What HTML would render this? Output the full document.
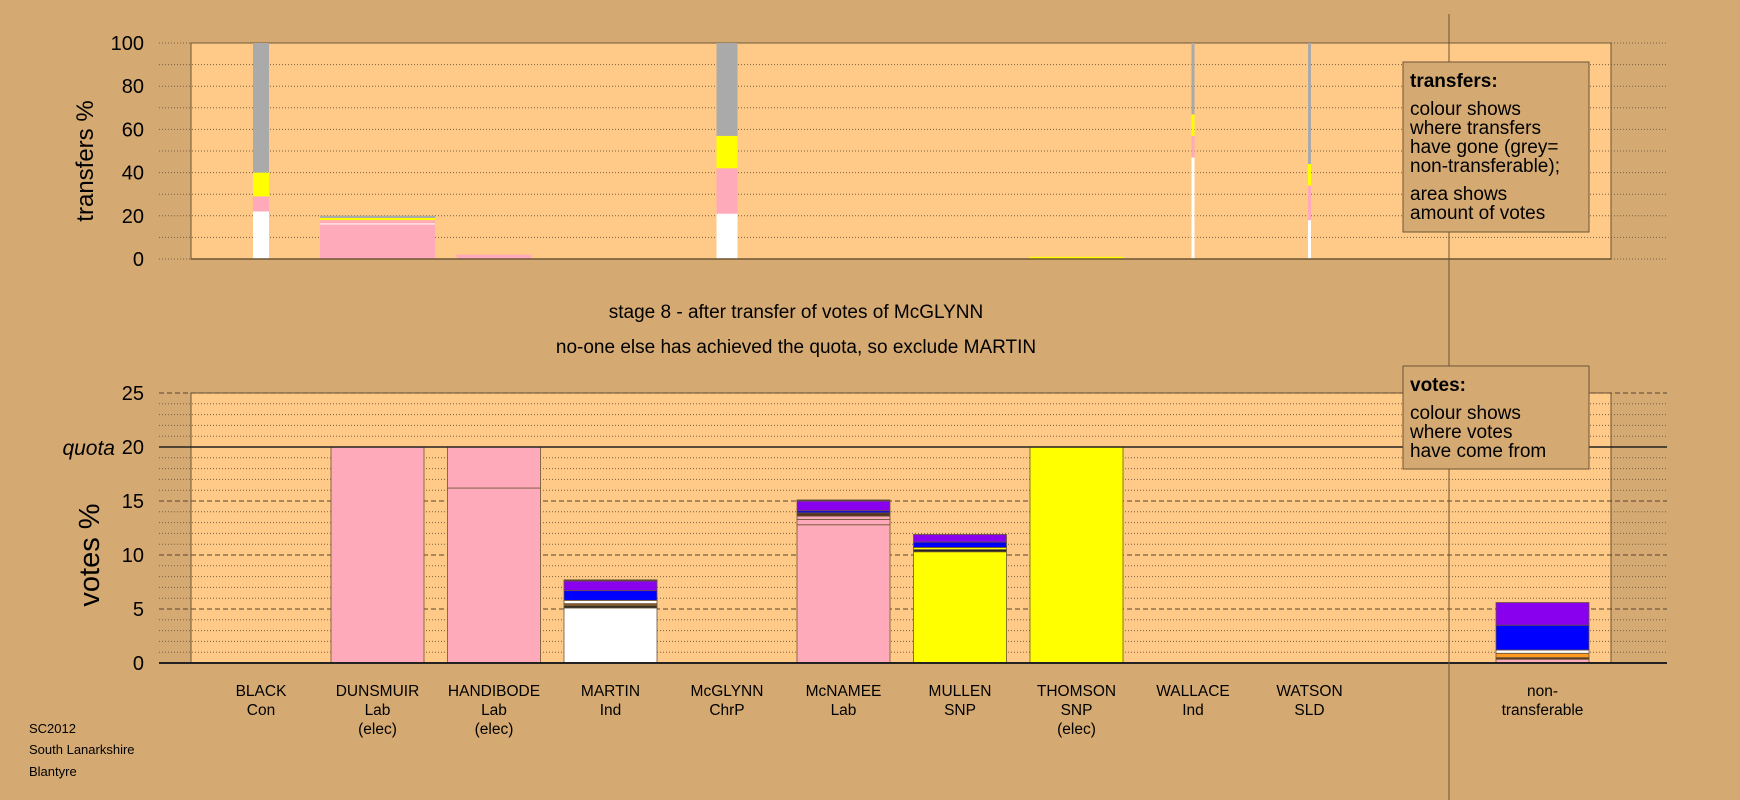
<!DOCTYPE html>
<html><head><meta charset="utf-8"><style>
html,body{margin:0;padding:0;background:#d4a972;}
svg{display:block;font-family:"Liberation Sans",sans-serif;}
</style></head><body>
<svg id="c" width="1740" height="800" viewBox="0 0 1740 800">
<rect x="0" y="0" width="1740" height="800" fill="#d4a972"/>
<rect x="191" y="43" width="1420" height="216" fill="#ffc987" stroke="#6b5535" stroke-width="1"/>
<rect x="191" y="393" width="1420" height="270" fill="#ffc987" stroke="#6b5535" stroke-width="1"/>
<g id="grid"></g>
<g id="bars"></g>
<line x1="1449" y1="14" x2="1449" y2="800" stroke="#6b5535" stroke-width="1"/>
<text x="85" y="161" font-size="24" text-anchor="middle" transform="rotate(-90 85 161)" dy="8">transfers %</text>
<text x="89" y="555" font-size="29" text-anchor="middle" transform="rotate(-90 89 555)" dy="10">votes %</text>
<text x="115" y="455" font-size="21" font-style="italic" text-anchor="end">quota</text>
<text x="796" y="318" font-size="19" text-anchor="middle">stage 8 - after transfer of votes of McGLYNN</text>
<text x="796" y="353" font-size="19" text-anchor="middle">no-one else has achieved the quota, so exclude MARTIN</text>
<g>
<rect x="1403" y="62" width="186" height="170" fill="#d4a972" stroke="#6b5535"/>
<text x="1410" y="87" font-size="19" font-weight="bold">transfers:</text>
<text font-size="19"><tspan x="1410" y="115">colour shows</tspan><tspan x="1410" y="134">where transfers</tspan><tspan x="1410" y="153">have gone (grey=</tspan><tspan x="1410" y="172">non-transferable);</tspan><tspan x="1410" y="200">area shows</tspan><tspan x="1410" y="219">amount of votes</tspan></text>
</g>
<g>
<rect x="1403" y="366" width="186" height="103" fill="#d4a972" stroke="#6b5535"/>
<text x="1410" y="391" font-size="19" font-weight="bold">votes:</text>
<text font-size="19"><tspan x="1410" y="419">colour shows</tspan><tspan x="1410" y="438">where votes</tspan><tspan x="1410" y="457">have come from</tspan></text>
</g>
<text font-size="13"><tspan x="29" y="733">SC2012</tspan><tspan x="29" y="754">South Lanarkshire</tspan><tspan x="29" y="776">Blantyre</tspan></text>
</svg>
<script>
const candidates=["BLACK|Con","DUNSMUIR|Lab|(elec)","HANDIBODE|Lab|(elec)","MARTIN|Ind","McGLYNN|ChrP","McNAMEE|Lab","MULLEN|SNP","THOMSON|SNP|(elec)","WALLACE|Ind","WATSON|SLD","non-|transferable"];
const tTicks=[0,20,40,60,80,100];
const vTicks=[0,5,10,15,20,25];
const quota=20;
// transfers: [candidateIndex, relative width, segments [top value, colour]]
const transferWidths=[16,115,75,0,21,0,0,94,3,3];
const transferSegs=[
 [[22,"#fff"],[29,"#ffaabb"],[40,"#ffff00"],[100,"#aaaaaa"]],
 [[16,"#ffaabb"],[16.5,"#fff"],[18,"#ffaabb"],[19,"#ffff00"],[20,"#aaaaaa"]],
 [[2,"#ffaabb"]],
 [],
 [[21,"#fff"],[42,"#ffaabb"],[57,"#ffff00"],[100,"#aaaaaa"]],
 [],[],
 [[1,"#ffff00"]],
 [[47,"#fff"],[57,"#ffaabb"],[67,"#ffff00"],[100,"#aaaaaa"]],
 [[18,"#fff"],[34,"#ffaabb"],[44,"#ffff00"],[100,"#aaaaaa"]]
];
const voteSegs=[
 [],
 [[20,"#ffaabb"]],
 [[16.2,"#ffaabb"],[20,"#ffaabb"]],
 [[5.1,"#fff"],[5.3,"#222"],[5.5,"#8a5a2a"],[5.8,"#fff"],[6.7,"#0000ff"],[7.6,"#8800ee"],[7.7,"#333"]],
 [],
 [[12.8,"#ffaabb"],[13.3,"#ffaabb"],[13.6,"#ffaabb"],[13.9,"#553322"],[14.1,"#0000ff"],[15.0,"#8800ee"],[15.1,"#333"]],
 [[10.3,"#ffff00"],[10.5,"#222"],[10.7,"#ffff00"],[11.2,"#0000ff"],[11.9,"#8800ee"]],
 [[20,"#ffff00"]],
 [],[],
 [[0.35,"#ffaabb"],[0.5,"#5a3a1a"],[0.9,"#ff9922"],[1.2,"#fff"],[3.5,"#0000ff"],[5.6,"#8800ee"]]
];
const NS="http://www.w3.org/2000/svg";
const gx0=159,gx1=1667;
function yT(v){return 259-(v/100)*216;}
function yV(v){return 663-(v/25)*270;}
function xC(i){return i<10?261+i*116.5:1542.5;}
function mk(tag,attrs,parent){const e=document.createElementNS(NS,tag);for(const k in attrs)e.setAttribute(k,attrs[k]);parent.appendChild(e);return e;}
const grid=document.getElementById('grid'),bars=document.getElementById('bars'),svg=document.getElementById('c');
for(let v=0;v<=100;v+=10){const l=mk('line',{x1:gx0,x2:gx1,y1:yT(v),y2:yT(v),stroke:'#7a6040','stroke-width':1,'stroke-dasharray':'1,2'},grid);

}
for(let v=0;v<=25;v++){if(v===0||v===quota)continue;const major=v%5===0;const l=mk('line',{x1:gx0,x2:gx1,y1:yV(v),y2:yV(v),stroke:major?'#5a4530':'#7a6040','stroke-width':1,'stroke-dasharray':major?'5,3':'1,2'},grid);

}
tTicks.forEach(v=>{const t=mk('text',{x:144,y:yT(v)+7,'font-size':20,'text-anchor':'end'},svg);t.textContent=v;

});
vTicks.forEach(v=>{const t=mk('text',{x:144,y:yV(v)+7,'font-size':20,'text-anchor':'end'},svg);t.textContent=v;

});
transferSegs.forEach((segs,i)=>{let prev=0;const w=transferWidths[i];segs.forEach(s=>{const r=mk('rect',{x:xC(i)-w/2,y:yT(s[0]),width:w,height:Math.max(yT(prev)-yT(s[0]),0.6),fill:s[1]},bars);

prev=s[0];});});
voteSegs.forEach((segs,i)=>{let prev=0;const w=93;segs.forEach(s=>{const r=mk('rect',{x:xC(i)-w/2,y:yV(s[0]),width:w,height:Math.max(yV(prev)-yV(s[0]),0.6),fill:s[1],stroke:'#6b5535','stroke-width':0.8},bars);

prev=s[0];});});
const q=mk('line',{x1:gx0,x2:gx1,y1:yV(quota),y2:yV(quota),stroke:'#222','stroke-width':1.5},bars);


const z=mk('line',{x1:gx0,x2:gx1,y1:yV(0),y2:yV(0),stroke:'#222','stroke-width':2},bars);


const z2=mk('line',{x1:191,x2:1611,y1:yT(0),y2:yT(0),stroke:'#6b5535','stroke-width':1.5},bars);


candidates.forEach((c,i)=>{const t=mk('text',{'font-size':15.5,'text-anchor':'middle'},svg);


c.split('|').forEach((p,j)=>{const s=mk('tspan',{x:xC(i),y:696+j*19},t);s.textContent=p;});});
</script>
</body></html>
